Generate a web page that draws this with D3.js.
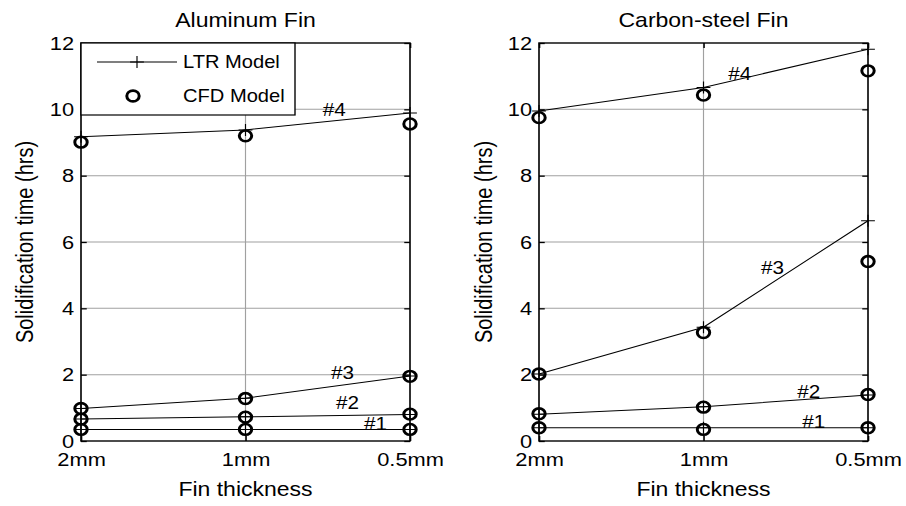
<!DOCTYPE html>
<html>
<head>
<meta charset="utf-8">
<script src="https://cdn.jsdelivr.net/npm/d3@7"></script>
<style>
  body { margin: 0; background: #fff; }
  text { font-family: "Liberation Sans", Arial, sans-serif; fill: #000; }
</style>
</head>
<body>
<script>
// data
var thickness = ["2mm", "1mm", "0.5mm"];
var caseNames = ["#1", "#2", "#3", "#4"];
var yTicks = [0, 2, 4, 6, 8, 10, 12];

var alLTR = [[0.35, 0.35, 0.35], [0.66, 0.73, 0.80], [0.98, 1.29, 1.96], [9.17, 9.38, 9.89]];
var alCFD = [[0.35, 0.35, 0.35], [0.66, 0.72, 0.81], [0.98, 1.28, 1.95], [9.01, 9.20, 9.56]];
var csLTR = [[0.40, 0.40, 0.40], [0.81, 1.03, 1.39], [2.02, 3.43, 6.64], [9.95, 10.66, 11.81]];
var csCFD = [[0.40, 0.35, 0.40], [0.82, 1.02, 1.40], [2.02, 3.27, 5.41], [9.75, 10.43, 11.16]];

// where the "#n" notes sit, in data units (x = thickness index, y = hrs)
var alNotes = [[1.79, 0.54], [1.62, 1.15], [1.59, 2.08], [1.54, 9.98]];
var csNotes = [[1.67, 0.60], [1.64, 1.48], [1.42, 5.22], [1.22, 11.09]];

var width = 906, height = 506;
// the picture is stretched sideways, so draw in narrower units and let the viewBox stretch it
var k = 1.15;
var vw = width / k;

var svg = d3.select("body").append("svg")
    .attr("width", width)
    .attr("height", height)
    .attr("viewBox", "0 0 " + vw + " " + height)
    .attr("preserveAspectRatio", "none");

var panels = [
  {title: "Aluminum Fin", left: 81, right: 410, ltr: alLTR, cfd: alCFD, notes: alNotes, legend: true, ylab: 33},
  {title: "Carbon-steel Fin", left: 539, right: 868, ltr: csLTR, cfd: csCFD, notes: csNotes, legend: false, ylab: 492}
];
var plotTop = 43, plotBottom = 441;

function plus(g, cx, cy, s) {
  g.append("path")
      .attr("d", "M" + (cx - s) + "," + cy + "H" + (cx + s) + "M" + cx + "," + (cy - s) + "V" + (cy + s))
      .attr("stroke", "#000")
      .attr("stroke-width", 1);
}

panels.forEach(function(p) {
  var x = d3.scaleLinear().domain([0, 2]).range([p.left / k, p.right / k]);
  var y = d3.scaleLinear().domain([0, 12]).range([plotBottom, plotTop]);
  var g = svg.append("g");

  // grid
  g.selectAll(".hgrid").data(yTicks.slice(1, -1)).enter().append("line")
      .attr("x1", x(0)).attr("x2", x(2))
      .attr("y1", function(d) { return y(d); }).attr("y2", function(d) { return y(d); })
      .attr("stroke", "#a0a0a0").attr("stroke-width", 1);
  g.append("line")
      .attr("x1", x(1)).attr("x2", x(1))
      .attr("y1", y(0)).attr("y2", y(12))
      .attr("stroke", "#a0a0a0").attr("stroke-width", 1);

  // axes (ticks point inward on all four sides)
  g.append("g").attr("transform", "translate(0," + plotBottom + ")")
      .call(d3.axisBottom(x).tickValues([0, 1, 2]).tickFormat(function(i) { return thickness[i]; })
        .tickSizeInner(-5).tickSizeOuter(0).tickPadding(12));
  g.append("g").attr("transform", "translate(" + x(0) + ",0)")
      .call(d3.axisLeft(y).tickValues(yTicks).tickSizeInner(-5).tickSizeOuter(0).tickPadding(6));
  g.append("g").attr("transform", "translate(0," + plotTop + ")")
      .call(d3.axisTop(x).tickValues([0, 1, 2]).tickFormat("").tickSizeInner(-5).tickSizeOuter(0));
  g.append("g").attr("transform", "translate(" + x(2) + ",0)")
      .call(d3.axisRight(y).tickValues(yTicks).tickFormat("").tickSizeInner(-5).tickSizeOuter(0));
  g.selectAll(".domain").remove();
  g.selectAll(".tick line").attr("stroke", "#000").attr("stroke-width", 1.3);
  g.selectAll(".tick text").attr("font-size", 19).attr("fill", "#000")
      .attr("font-family", "Liberation Sans, Arial, sans-serif");

  g.append("rect")
      .attr("x", x(0)).attr("y", plotTop)
      .attr("width", x(2) - x(0)).attr("height", plotBottom - plotTop)
      .attr("fill", "none").attr("stroke", "#000").attr("stroke-width", 1.4);

  // LTR model lines with + markers
  var line = d3.line().x(function(d, i) { return x(i); }).y(function(d) { return y(d); });
  p.ltr.forEach(function(s) {
    g.append("path").attr("d", line(s)).attr("fill", "none").attr("stroke", "#000").attr("stroke-width", 1);
    s.forEach(function(v, i) { plus(g, x(i), y(v), 6); });
  });

  // CFD model circles
  p.cfd.forEach(function(s) {
    g.selectAll(null).data(s).enter().append("circle")
        .attr("cx", function(d, i) { return x(i); })
        .attr("cy", function(d) { return y(d); })
        .attr("r", 5.4)
        .attr("fill", "none").attr("stroke", "#000").attr("stroke-width", 2.6);
  });

  // case notes
  g.selectAll(".note").data(p.notes).enter().append("text")
      .attr("x", function(d) { return x(d[0]); })
      .attr("y", function(d) { return y(d[1]) + 6.5; })
      .attr("text-anchor", "middle").attr("font-size", 18)
      .text(function(d, i) { return caseNames[i]; });

  // titles
  g.append("text").attr("x", (x(0) + x(2)) / 2).attr("y", 27)
      .attr("text-anchor", "middle").attr("font-size", 20).text(p.title);
  g.append("text").attr("x", (x(0) + x(2)) / 2).attr("y", 496)
      .attr("text-anchor", "middle").attr("font-size", 20).text("Fin thickness");
  g.append("text")
      .attr("transform", "translate(" + (p.ylab / k) + "," + ((plotTop + plotBottom) / 2) + ") rotate(-90)")
      .attr("text-anchor", "middle").attr("font-size", 20).text("Solidification time (hrs)");

  if (p.legend) {
    var lg = g.append("g");
    lg.append("rect")
        .attr("x", x(0)).attr("y", plotTop)
        .attr("width", 295 / k - x(0)).attr("height", 115 - plotTop)
        .attr("fill", "#fff").attr("stroke", "#000").attr("stroke-width", 1.2);
    lg.append("line").attr("x1", 97 / k).attr("x2", 177 / k).attr("y1", 62).attr("y2", 62)
        .attr("stroke", "#000").attr("stroke-width", 1);
    plus(lg, 137 / k, 62, 6);
    lg.append("circle").attr("cx", 133 / k).attr("cy", 96).attr("r", 5.4)
        .attr("fill", "none").attr("stroke", "#000").attr("stroke-width", 2.6);
    lg.append("text").attr("x", 183 / k).attr("y", 68.5).attr("font-size", 17.5).text("LTR Model");
    lg.append("text").attr("x", 183 / k).attr("y", 102.5).attr("font-size", 17.5).text("CFD Model");
  }
});
</script>
</body>
</html>
